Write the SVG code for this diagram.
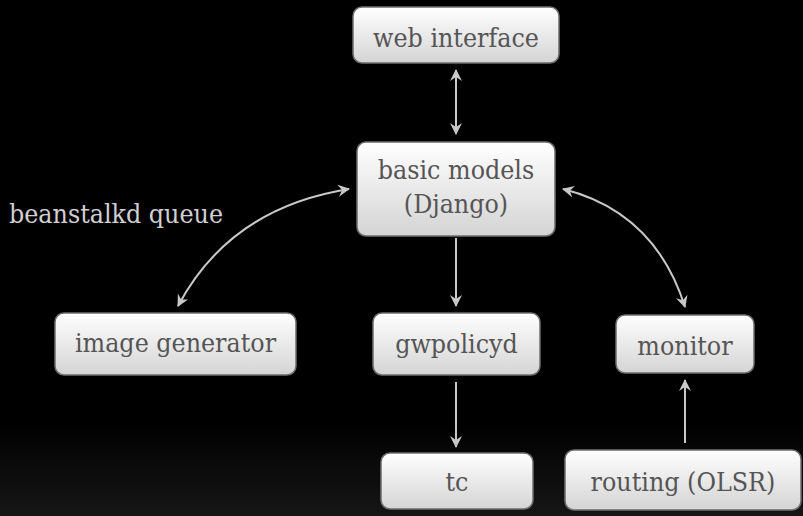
<svg xmlns="http://www.w3.org/2000/svg" width="803" height="516" viewBox="0 0 803 516">
<defs>
<linearGradient id="bg" x1="0" y1="0" x2="0" y2="1">
<stop offset="0" stop-color="#000"/>
<stop offset="0.82" stop-color="#000"/>
<stop offset="1" stop-color="#161616"/>
</linearGradient>
<linearGradient id="box" x1="0" y1="0" x2="0" y2="1">
<stop offset="0" stop-color="#ffffff"/>
<stop offset="1" stop-color="#d4d4d4"/>
</linearGradient>
<marker id="ah2" viewBox="0 0 12 12" refX="11" refY="6" markerWidth="12" markerHeight="12" orient="auto-start-reverse" markerUnits="userSpaceOnUse">
<path d="M0,0 L12,6 L0,12 L4,6 Z" fill="#c8c8c8"/>
</marker>
</defs>
<style>
.node rect{fill:url(#box);stroke:#6e6e6e;stroke-width:1.5}
.node text{fill:#555;text-anchor:middle}
.lbl{fill:#d0d0d0}
#connectors path{fill:none;stroke:#c8c8c8;stroke-width:2;marker-end:url(#ah2)}
#connectors .both{marker-start:url(#ah2)}
</style>
<rect width="803" height="516" fill="url(#bg)"/>
<g id="connectors">
<path class="both" d="M456,70 L456,134"/>
<path d="M456,238 L456,306"/>
<path d="M456,382 L456,447"/>
<path d="M685,443 L685,380"/>
<path class="both" d="M178,306 Q230,208 349,189"/>
<path class="both" d="M563,189 Q655,212 685,307"/>
</g>
<g font-family="DejaVu Serif Condensed, DejaVu Serif, serif" font-size="26.5">
<text class="lbl" x="9" y="223">beanstalkd queue</text>
<g id="web" class="node"><rect x="353" y="7" width="206" height="56" rx="9"/><text x="456" y="47">web interface</text></g>
<g id="models" class="node"><rect x="357" y="142" width="198" height="94" rx="9"/><text x="456" y="179">basic models</text><text x="456" y="213">(Django)</text></g>
<g id="imagegen" class="node"><rect x="55" y="313" width="241" height="62" rx="9"/><text x="175.5" y="352">image generator</text></g>
<g id="gwpolicyd" class="node"><rect x="373" y="313" width="167" height="62" rx="9"/><text x="456.5" y="353">gwpolicyd</text></g>
<g id="monitor" class="node"><rect x="616" y="315" width="138" height="58" rx="9"/><text x="685" y="355">monitor</text></g>
<g id="tc" class="node"><rect x="381" y="453" width="152" height="56" rx="9"/><text x="457" y="491">tc</text></g>
<g id="routing" class="node"><rect x="565" y="450" width="236" height="60" rx="9"/><text x="683" y="491">routing (OLSR)</text></g>
</g>
</svg>
